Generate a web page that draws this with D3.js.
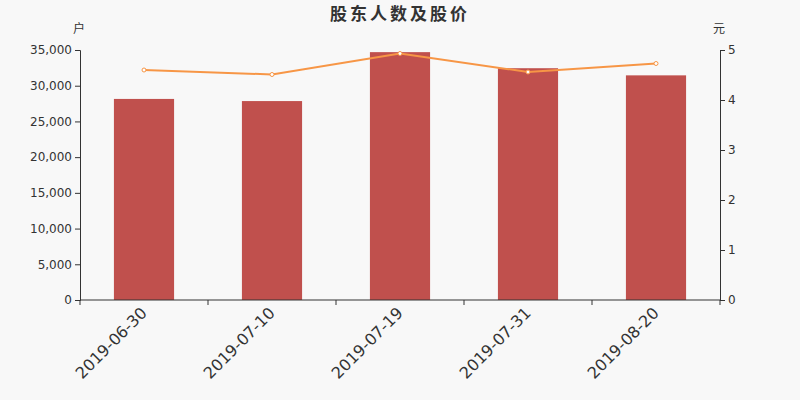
<!DOCTYPE html>
<html><head><meta charset="utf-8">
<script src="https://cdn.jsdelivr.net/npm/d3@7"></script>
<style>body{margin:0;background:#f8f8f8;}svg{display:block;font-family:"Noto Sans CJK SC","DejaVu Sans",sans-serif;}</style>
</head><body>
<svg id="c" width="800" height="400"></svg>
<script>
const categories = ["2019-06-30","2019-07-10","2019-07-19","2019-07-31","2019-08-20"];
const holders = [28150, 27850, 34700, 32450, 31450];
const prices = [4.60, 4.51, 4.93, 4.56, 4.73];
const leftTicks = [0,5000,10000,15000,20000,25000,30000,35000];
const rightTicks = [0,1,2,3,4,5];

const svg = d3.select("#c");
svg.append("rect").attr("width",800).attr("height",400).attr("fill","#f8f8f8");
const L=80,R=720,T=50,B=300;
const x = d3.scaleBand().domain(categories).range([L,R]).paddingInner(0.53).paddingOuter(0.265);
const xb = d3.scaleBand().domain(categories).range([L,R]);
const yl = d3.scaleLinear().domain([0,35000]).range([B,T]);
const yr = d3.scaleLinear().domain([0,5]).range([B,T]);

svg.append("text").attr("x",400).attr("y",20).attr("text-anchor","middle")
  .attr("font-size",17).attr("font-weight","bold").attr("letter-spacing",3).attr("fill","#333").text("股东人数及股价");
svg.append("text").attr("x",79).attr("y",33).attr("text-anchor","middle").attr("font-size",12).attr("fill","#333").text("户");
svg.append("text").attr("x",719).attr("y",33).attr("text-anchor","middle").attr("font-size",12).attr("fill","#333").text("元");

svg.selectAll("rect.bar").data(categories).enter().append("rect").attr("class","bar")
  .attr("x",d=>x(d)).attr("width",x.bandwidth())
  .attr("y",(d,i)=>yl(holders[i])).attr("height",(d,i)=>B-yl(holders[i]))
  .attr("fill","#c0504d");

const fmt = d3.format(",");
const gl = svg.append("g").attr("transform",`translate(${L},0)`)
  .call(d3.axisLeft(yl).tickValues(leftTicks).tickFormat(fmt).tickSizeOuter(0).tickSize(5));
const gr = svg.append("g").attr("transform",`translate(${R},0)`)
  .call(d3.axisRight(yr).tickValues(rightTicks).tickFormat(d3.format("d")).tickSizeOuter(0).tickSize(5));
[gl,gr].forEach(g=>{
  g.selectAll("path,line").attr("stroke","#333");
  g.selectAll("text").attr("fill","#333").attr("font-size",12).attr("font-family","DejaVu Sans, sans-serif");
});

const gx = svg.append("g").attr("transform",`translate(0,${B})`);
gx.append("line").attr("x1",L).attr("x2",R).attr("stroke","#333");
const bounds = categories.map(c=>xb(c)).concat([R]);
gx.selectAll("line.t").data(bounds).enter().append("line").attr("class","t")
  .attr("x1",d=>d).attr("x2",d=>d).attr("y1",0).attr("y2",5).attr("stroke","#333");
gx.selectAll("text").data(categories).enter().append("text")
  .attr("transform",d=>`translate(${xb(d)+xb.bandwidth()/2+4},${14}) rotate(-45)`)
  .attr("text-anchor","end").attr("font-size",16).attr("fill","#333")
  .attr("font-family","DejaVu Sans, sans-serif").text(d=>d);

const line = d3.line().x((d,i)=>xb(categories[i])+xb.bandwidth()/2).y(d=>yr(d));
svg.append("path").datum(prices).attr("d",line).attr("fill","none").attr("stroke","#f79646").attr("stroke-width",2);
svg.selectAll("circle.p").data(prices).enter().append("circle").attr("class","p")
  .attr("cx",(d,i)=>xb(categories[i])+xb.bandwidth()/2).attr("cy",d=>yr(d)).attr("r",2)
  .attr("fill","#fff").attr("stroke","#f79646").attr("stroke-width",1);
</script>
</body></html>
